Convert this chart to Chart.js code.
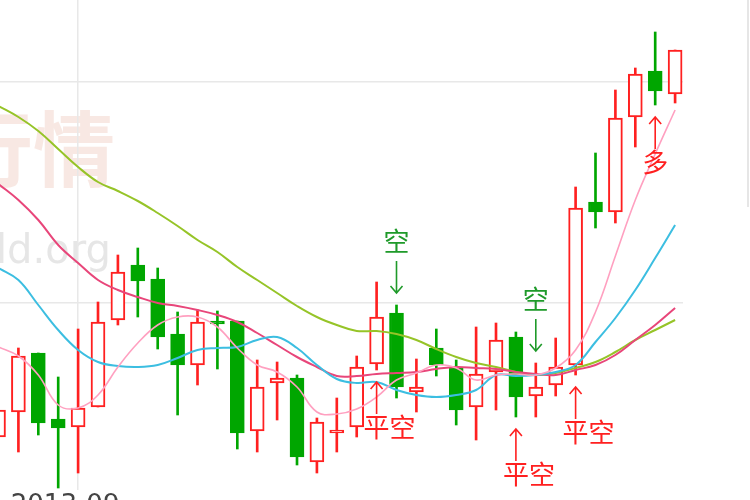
<!DOCTYPE html>
<html>
<head>
<meta charset="utf-8">
<script src="https://cdn.jsdelivr.net/npm/chart.js@4.4.0/dist/chart.umd.min.js"></script>
<style>
  html, body { margin: 0; padding: 0; background: #fff; }
  #wrap { width: 750px; height: 500px; }
</style>
</head>
<body>
<div id="wrap"><canvas id="kline" width="750" height="500"></canvas></div>
<script>
// trading days shown (category per candle)
const dates = [
  '2013-08-27','2013-08-28','2013-08-29','2013-08-30','2013-09-02','2013-09-03','2013-09-04',
  '2013-09-05','2013-09-06','2013-09-09','2013-09-10','2013-09-11','2013-09-12','2013-09-13',
  '2013-09-16','2013-09-17','2013-09-18','2013-09-23','2013-09-24','2013-09-25','2013-09-26',
  '2013-09-27','2013-09-30','2013-10-08','2013-10-09','2013-10-10','2013-10-11','2013-10-14',
  '2013-10-15','2013-10-16','2013-10-17','2013-10-18','2013-10-21','2013-10-22','2013-10-23'
];

const opens  = [3.63,3.88,4.47,3.81,3.73,3.93,4.80,5.35,5.21,4.66,4.35,4.79,4.79,3.69,4.17,4.22,3.38,3.67,
                3.73,4.36,4.87,4.08,4.52,4.33,3.93,4.28,4.63,4.04,4.15,4.35,5.98,5.88,6.83,7.29,7.06];
const highs  = [3.95,4.52,4.47,4.23,4.71,4.98,5.45,5.52,5.32,4.88,4.90,4.89,4.79,4.40,4.38,4.25,3.82,4.02,
                4.44,5.18,4.95,4.41,4.71,4.40,4.73,4.77,4.68,4.37,4.62,6.13,6.47,7.10,7.32,7.68,7.50];
const lows   = [3.60,3.48,3.65,3.12,3.27,3.93,4.75,4.83,4.51,3.85,4.15,4.31,3.51,3.48,3.80,3.35,3.27,3.48,
                3.63,4.30,4.02,3.88,4.24,3.75,3.60,3.90,3.83,3.83,4.04,4.25,5.72,5.77,6.53,6.95,6.97];
const closes = [3.90,4.44,3.77,3.72,3.92,4.78,5.28,5.19,4.63,4.35,4.78,4.76,3.67,4.13,4.22,3.43,3.78,3.70,
                4.33,4.83,4.13,4.13,4.35,3.90,4.26,4.60,4.03,4.13,4.33,5.92,5.88,6.82,7.26,7.09,7.50];

// moving averages
const ma5  = [4.53,4.44,4.25,3.95,3.92,4.05,4.33,4.57,4.75,4.83,4.83,4.73,4.52,4.35,4.28,4.13,3.88,3.86,
              3.91,4.03,4.20,4.27,4.35,4.32,4.20,4.25,4.26,4.25,4.32,4.50,4.88,5.44,6.00,6.46,6.90];
const ma10 = [5.32,5.20,4.95,4.70,4.50,4.38,4.34,4.33,4.35,4.42,4.50,4.52,4.53,4.60,4.63,4.52,4.35,4.21,
              4.17,4.18,4.10,4.05,4.03,4.05,4.10,4.25,4.24,4.25,4.28,4.35,4.58,4.82,5.10,5.42,5.75];
const ma20 = [6.16,6.00,5.80,5.55,5.37,5.20,5.10,5.03,4.97,4.94,4.90,4.85,4.78,4.67,4.55,4.43,4.33,4.24,
              4.24,4.26,4.27,4.28,4.31,4.33,4.32,4.31,4.28,4.26,4.25,4.30,4.35,4.45,4.60,4.75,4.92];
const ma60 = [6.94,6.83,6.69,6.51,6.33,6.18,6.09,5.99,5.87,5.74,5.60,5.48,5.33,5.20,5.07,4.94,4.83,4.75,
              4.69,4.69,4.66,4.60,4.51,4.43,4.37,4.33,4.28,4.25,4.27,4.32,4.38,4.48,4.60,4.70,4.80];

const xTickIndex = [4];
const xTickLabels = ['2013-09'];
const yGridValues = [4.97, 7.18];

// trade signals: dir 'down' = sell marker above the candle, 'up' = marker under it
const signals = [
  { index: 19, text: '平空', dir: 'up' },
  { index: 20, text: '空', dir: 'down' },
  { index: 26, text: '平空', dir: 'up' },
  { index: 27, text: '空', dir: 'down' },
  { index: 29, text: '平空', dir: 'up' },
  { index: 33, text: '多', dir: 'up' }
];

const RED = '#ff2020';
const GREEN = '#00a600';
const SIGNAL_GREEN = '#1f9a2a';

const isUp = i => closes[i] >= opens[i];
const candleColor = dates.map((d, i) => isUp(i) ? RED : GREEN);
const bodyFill = dates.map((d, i) => isUp(i) ? '#ffffff' : GREEN);

const wickData = dates.map((d, i) => ({ x: i, y: [lows[i], highs[i]] }));
const bodyData = dates.map((d, i) => ({ x: i, y: [Math.min(opens[i], closes[i]), Math.max(opens[i], closes[i])] }));
const toPoints = arr => arr.map((v, i) => ({ x: i, y: v }));

function drawArrow(ctx, x, from, to) {
  const dir = to > from ? 1 : -1;
  ctx.beginPath();
  ctx.moveTo(x, from);
  ctx.lineTo(x, to);
  ctx.moveTo(x - 6, to - dir * 7);
  ctx.lineTo(x, to);
  ctx.lineTo(x + 6, to - dir * 7);
  ctx.stroke();
}

const watermark = {
  id: 'watermark',
  beforeDraw(chart) {
    const ctx = chart.ctx;
    ctx.save();
    ctx.fillStyle = 'rgba(236,190,175,0.35)';
    ctx.font = 'bold 82px "Noto Sans CJK SC"';
    ctx.textBaseline = 'alphabetic';
    ctx.fillText('行情', -49, 180);
    ctx.fillStyle = 'rgba(200,200,200,0.45)';
    ctx.font = '40px "DejaVu Sans"';
    ctx.fillText('ld.org', -4, 263);
    ctx.restore();
  }
};

const signalMarks = {
  id: 'signalMarks',
  afterDatasetsDraw(chart) {
    const { ctx, scales: { x, y } } = chart;
    ctx.save();
    ctx.font = '26px "Noto Sans CJK SC"';
    ctx.lineWidth = 1.6;
    signals.forEach(s => {
      const cx = x.getPixelForValue(s.index);
      if (s.dir === 'down') {
        ctx.strokeStyle = SIGNAL_GREEN;
        ctx.fillStyle = SIGNAL_GREEN;
        const tip = y.getPixelForValue(highs[s.index]) - 12;
        const tail = tip - 32;
        drawArrow(ctx, cx, tail, tip);
        ctx.textAlign = 'center';
        ctx.fillText(s.text, cx, tail - 10);
      } else {
        ctx.strokeStyle = RED;
        ctx.fillStyle = RED;
        const tip = y.getPixelForValue(lows[s.index]) + 12;
        const tail = tip + 32;
        drawArrow(ctx, cx, tail, tip);
        ctx.textAlign = 'left';
        ctx.fillText(s.text, cx - 13, tail + 23);
      }
    });
    ctx.restore();
  }
};

const frame = {
  id: 'frame',
  afterDraw(chart) {
    const { ctx, scales: { x }, chartArea } = chart;
    ctx.save();
    ctx.fillStyle = '#444';
    ctx.font = '26px "DejaVu Sans"';
    ctx.textAlign = 'center';
    ctx.textBaseline = 'top';
    xTickIndex.forEach((v, k) => {
      ctx.fillText(xTickLabels[k], x.getPixelForValue(v) - 13, chartArea.bottom + 3);
    });
    ctx.strokeStyle = '#e6e6e6';
    ctx.lineWidth = 2;
    ctx.beginPath();
    ctx.moveTo(748, 0);
    ctx.lineTo(748, 207);
    ctx.stroke();
    ctx.restore();
  }
};

new Chart(document.getElementById('kline'), {
  type: 'bar',
  data: {
    datasets: [
      { type: 'line', label: 'MA5', data: toPoints(ma5), borderColor: 'rgb(255,160,192)', borderWidth: 1.6,
        pointRadius: 0, tension: 0.4, fill: false, order: 1 },
      { type: 'line', label: 'MA10', data: toPoints(ma10), borderColor: 'rgb(60,190,225)', borderWidth: 2,
        pointRadius: 0, tension: 0.4, fill: false, order: 1 },
      { type: 'line', label: 'MA20', data: toPoints(ma20), borderColor: 'rgb(232,70,122)', borderWidth: 2,
        pointRadius: 0, tension: 0.4, fill: false, order: 1 },
      { type: 'line', label: 'MA60', data: toPoints(ma60), borderColor: 'rgb(150,196,40)', borderWidth: 2,
        pointRadius: 0, tension: 0.4, fill: false, order: 1 },
      { type: 'bar', label: 'body', data: bodyData, backgroundColor: bodyFill, borderColor: candleColor,
        borderWidth: 2, borderSkipped: false, barThickness: 14, grouped: false, order: 2 },
      { type: 'bar', label: 'wick', data: wickData, backgroundColor: candleColor, borderWidth: 0,
        barThickness: 2, grouped: false, order: 3 }
    ]
  },
  options: {
    responsive: false,
    animation: false,
    devicePixelRatio: 1,
    layout: { padding: { left: 0, right: 67, top: 0, bottom: 10 } },
    plugins: { legend: { display: false }, tooltip: { enabled: false } },
    scales: {
      x: {
        type: 'linear', min: 0.075, max: 34.397, offset: false,
        afterBuildTicks: s => { s.ticks = xTickIndex.map(v => ({ value: v })); },
        grid: { color: '#e8e8e8', lineWidth: 1.5, drawTicks: false, offset: false },
        border: { display: false },
        ticks: { display: false }
      },
      y: {
        type: 'linear', min: 3.10, max: 8.00,
        afterBuildTicks: s => { s.ticks = yGridValues.map(v => ({ value: v })); },
        grid: { color: '#e8e8e8', lineWidth: 1.5, drawTicks: false },
        border: { display: false },
        ticks: { display: false }
      }
    }
  },
  plugins: [watermark, signalMarks, frame]
});
</script>
</body>
</html>
